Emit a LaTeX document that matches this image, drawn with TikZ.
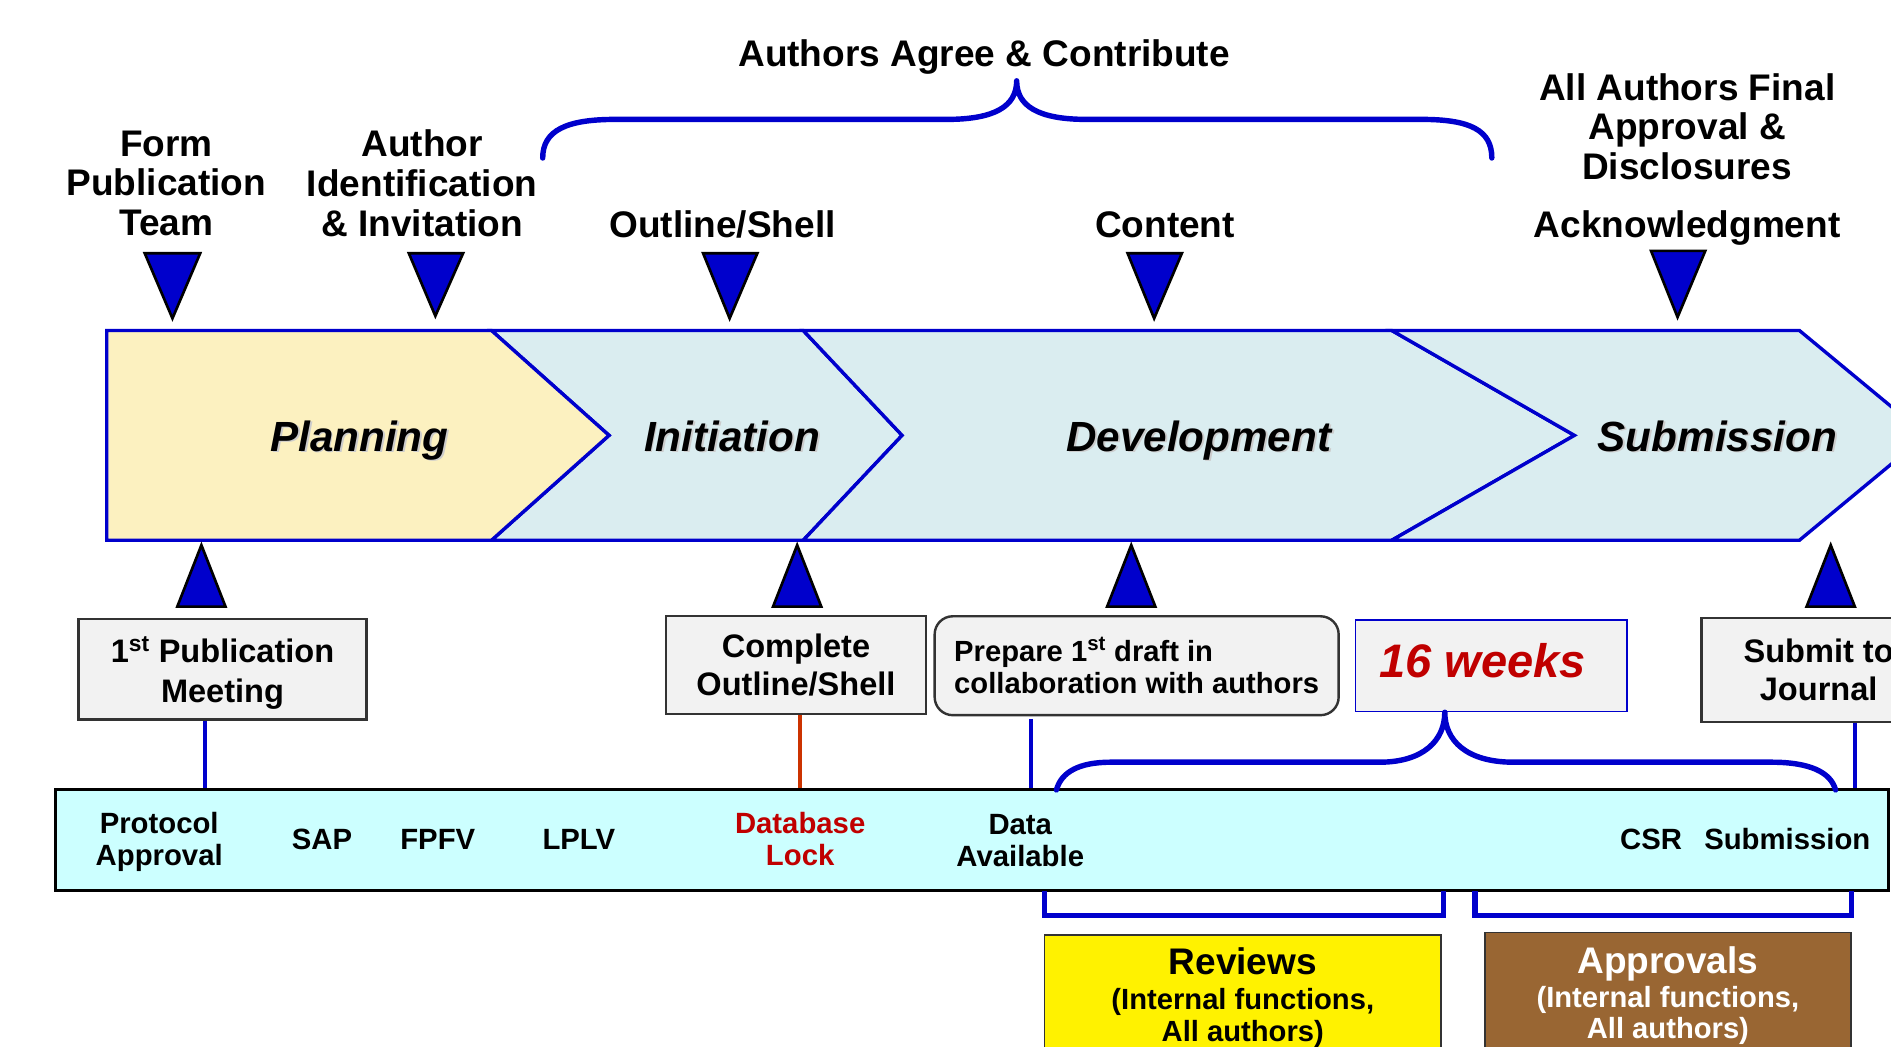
\documentclass[tikz,border=0pt]{standalone}
\usepackage{fontspec}
\setmainfont{Liberation Sans}
\usetikzlibrary{positioning}

\definecolor{lineblue}{RGB}{0,0,204}
\definecolor{planfill}{RGB}{252,241,192}
\definecolor{phasefill}{RGB}{218,237,240}
\definecolor{bandfill}{RGB}{204,255,255}
\definecolor{boxgray}{RGB}{242,242,242}
\definecolor{lockred}{RGB}{192,0,0}
\definecolor{outlinered}{RGB}{204,51,0}
\definecolor{approvalbrown}{RGB}{153,102,51}

% soft drop shadow behind the phase names
\newcommand{\phaselabel}[1]{\makebox[0pt][l]{\kern1.5pt\raisebox{-1.5pt}{\textcolor{black!20}{#1}}}#1}

\begin{document}
\begin{tikzpicture}[
  x=1pt, y=-1pt,
  heading/.style={font=\fontsize{30.7}{33}\selectfont\bfseries, align=center},
  phase/.style={draw=lineblue, line width=2.8, line join=miter, fill=phasefill},
  phasename/.style={font=\fontsize{35}{40}\selectfont\bfseries\itshape, anchor=base},
  pin/.style={draw=black, line width=2.2, line join=miter, fill=lineblue},
  task/.style={draw=black!80, line width=2, fill=boxgray, align=center,
               font=\fontsize{27}{32}\selectfont\bfseries},
  link/.style={draw=lineblue, line width=3.5},
  brace/.style={draw=lineblue, line width=4.5, line cap=round, line join=round},
  bracket/.style={draw=lineblue, line width=4.5, line join=miter},
  event/.style={font=\fontsize{24.3}{26.5}\selectfont\bfseries, align=center},
  group/.style={draw=black!80, line width=1.5, anchor=north, minimum height=130pt},
  grouptitle/.style={font=\fontsize{30.7}{33}\selectfont\bfseries},
  groupnote/.style={font=\fontsize{24.2}{26}\selectfont\bfseries, align=center}
]
\useasboundingbox (0,0) rectangle (1568,868);
\clip (0,0) rectangle (1568,868);

% milestones above the phases
\node[heading, anchor=base] (agree) at (816,55) {Authors Agree \& Contribute};
\node[heading] (form) at (138,152) {Form\\Publication\\Team};
\node[heading] (ident) at (350,152) {Author\\Identification\\\& Invitation};
\node[heading, anchor=base] (outline) at (599,197) {Outline/Shell};
\node[heading, anchor=base] (content) at (966,197) {Content};
\node[heading] (final) at (1399,105) {All Authors Final\\Approval \&\\Disclosures};
\node[heading, anchor=base] (ack) at (1399,197) {Acknowledgment};

\draw[brace] (450,131) .. controls (450,108) and (470,99) .. (510,99) -- (785,99)
  .. controls (825,99) and (843,88) .. (843,67)
  .. controls (843,88) and (861,99) .. (901,99) -- (1179,99)
  .. controls (1219,99) and (1237,108) .. (1237,131);

\draw[pin] (120,210) -- (166,210) -- (143,264) -- cycle;
\draw[pin] (339,210) -- (384,210) -- (361,262) -- cycle;
\draw[pin] (583,210) -- (628,210) -- (605,264) -- cycle;
\draw[pin] (935,210) -- (980,210) -- (957,264) -- cycle;
\draw[pin] (1369,208) -- (1414,208) -- (1391,263) -- cycle;

% phase chevrons
\filldraw[phase] (407.5,274) -- (666,274) -- (748,361) -- (666,448) -- (407.5,448) -- (505,361) -- cycle;
\filldraw[phase] (666,274) -- (1154,274) -- (1305.5,361) -- (1154,448) -- (666,448) -- (748,361) -- cycle;
\filldraw[phase] (1154,274) -- (1492,274) -- (1597,361) -- (1492,448) -- (1154,448) -- (1305.5,361) -- cycle;
\filldraw[phase, fill=planfill] (88.5,274) -- (407.5,274) -- (505,361) -- (407.5,448) -- (88.5,448) -- cycle;

\node[phasename] (planning) at (298,374) {\phaselabel{Planning}};
\node[phasename] (initiation) at (607,374) {\phaselabel{Initiation}};
\node[phasename] (development) at (994,374) {\phaselabel{Development}};
\node[phasename] (submission) at (1424,374) {\phaselabel{Submission}};

\draw[pin] (147,503) -- (187,503) -- (167,452) -- cycle;
\draw[pin] (641,503) -- (681,503) -- (661,452) -- cycle;
\draw[pin] (918,503) -- (958,503) -- (938,452) -- cycle;
\draw[pin] (1498,503) -- (1538,503) -- (1518,452) -- cycle;

% tasks below the phases
\node[task, minimum width=239pt, minimum height=83pt, text depth=0pt] (meeting) at (184.5,555) {1\textsuperscript{st} Publication\\[1pt]Meeting};
\node[task, minimum width=216pt, minimum height=81pt] (shell) at (660,551.5) {Complete\\Outline/Shell};
\node[task, rounded corners=15pt, align=left, minimum width=335pt, minimum height=82pt,
      font=\fontsize{24.2}{27}\selectfont\bfseries] (draft) at (942.5,552)
      {Prepare 1\textsuperscript{st} draft in\\collaboration with authors};
\node[task, draw=lineblue, line width=1.2, minimum width=225pt, minimum height=76pt, text depth=8pt,
      font=\fontsize{39}{40}\selectfont\bfseries\itshape, text=lockred] (weeks) at (1236.5,552) {16 weeks\kern14pt};
\node[task, minimum width=194pt, minimum height=86pt] (journal) at (1508,555.5) {Submit to\\Journal};

% study events
\node[draw=black, line width=2.5, fill=bandfill, minimum width=1519.5pt, minimum height=84pt] (band) at (805.75,696.5) {};
\node[event] (protocol) at (132,698) {Protocol\\Approval};
\node[event] (sap) at (267,696) {SAP};
\node[event] (fpfv) at (363,696) {FPFV};
\node[event] (lplv) at (480,696) {LPLV};
\node[event, text=lockred] (dblock) at (663.5,696) {Database\\Lock};
\node[event] (data) at (846,697) {Data\\Available};
\node[event] (csr) at (1369,696) {CSR};
\node[event] (submit) at (1482,696) {Submission};

\path ([xshift=-14.5pt]meeting.south) coordinate (meetfoot);
\path ([xshift=-87.5pt]draft.south) coordinate (draftfoot);
\path ([xshift=30pt]journal.south) coordinate (journalfoot);
\path ([xshift=-38.5pt]weeks.south) coordinate (weekstip);
\draw[link] (meetfoot) -- (meetfoot |- band.north);
\draw[link, draw=outlinered] (dblock |- shell.south) -- (dblock |- band.north);
\draw[link] ([yshift=-2pt]draftfoot) -- (draftfoot |- band.north);
\draw[link] (journalfoot) -- (journalfoot |- band.north);

\draw[brace] (876,655) .. controls (880,640) and (895,632) .. (921,632) -- (1144,632)
  .. controls (1180,632) and (1198,614) .. (weekstip)
  .. controls (1198,614) and (1216,632) .. (1255,632) -- (1469,632)
  .. controls (1500,632) and (1518,640) .. (1522,655);

% review and approval groups
\draw[bracket] (866,739) -- (866,759) -- (1197,759) -- (1197,739);
\draw[bracket] (1223,739) -- (1223,759) -- (1535,759) -- (1535,739);

\node[group, fill=yellow, minimum width=329pt] (reviews) at (1030.5,774.5) {};
\node[grouptitle, anchor=base] (revtitle) at (reviews.north |- 0,808) {Reviews};
\node[groupnote] (revnote) at (reviews.north |- 0,844) {(Internal functions,\\All authors)};

\node[group, fill=approvalbrown, minimum width=304pt] (approvals) at (1383,772.5) {};
\node[grouptitle, anchor=base, text=white] (apptitle) at (approvals.north |- 0,807) {Approvals};
\node[groupnote, text=white] (appnote) at (approvals.north |- 0,842) {(Internal functions,\\All authors)};
\end{tikzpicture}
\end{document}
